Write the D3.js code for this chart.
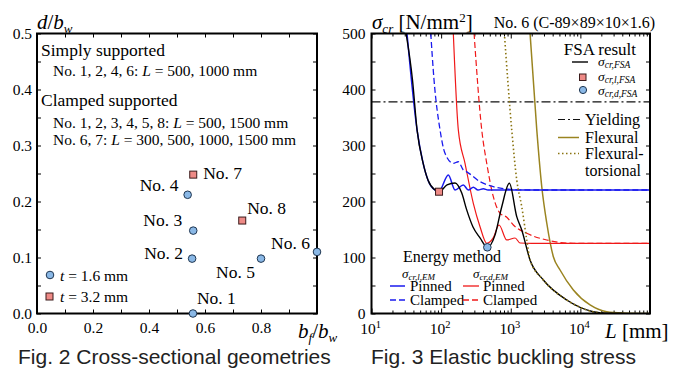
<!DOCTYPE html>
<html>
<head>
<meta charset="utf-8">
<script src="https://cdn.jsdelivr.net/npm/d3@7/dist/d3.min.js"></script>
<style>
body { margin: 0; background: #fff; }
</style>
</head>
<body>
<svg width="686" height="370"></svg>
<script>
// ---------- Fig. 2 data (b_f/b_w, d/b_w) ----------
var t16Names = ['No. 1', 'No. 2', 'No. 3', 'No. 4', 'No. 5', 'No. 6'];
var t16Bf = [0.557, 0.554, 0.558, 0.538, 0.80, 1.0];
var t16D = [0.0, 0.098, 0.148, 0.212, 0.098, 0.110];
var t32Names = ['No. 7', 'No. 8'];
var t32Bf = [0.558, 0.733];
var t32D = [0.248, 0.166];
var xTicksL = [0, 0.1, 0.2, 0.3, 0.4, 0.5, 0.6, 0.7, 0.8, 0.9, 1.0];
var xLabelsL = ['0.0', '', '0.2', '', '0.4', '', '0.6', '', '0.8', '', ''];
var yTicksL = [0, 0.05, 0.1, 0.15, 0.2, 0.25, 0.3, 0.35, 0.4, 0.45, 0.5];
var yLabelsL = ['0.0', '', '0.1', '', '0.2', '', '0.3', '', '0.4', '', '0.5'];

// ---------- Fig. 3 data (L [mm], sigma [N/mm2]) ----------
var fsa = [[31.3, 501], [38.8, 417], [45.1, 328], [55, 269], [64.9, 238], [81.7, 220.5], [93.3, 217.5],
  [121.6, 229.5], [158.5, 233], [197.8, 215], [233, 185], [287, 154.5], [362, 135], [461, 118.2],
  [594, 140], [743, 190.7], [955, 232.5], [1219, 173], [1439, 149], [1892, 95.5], [2939, 59.8],
  [6377, 24.1], [15200, 3.2], [23900, 0.4], [40000, 0]];
var pinnedLocal = [[32.3, 501], [45.1, 328], [55, 269], [64.9, 238], [81.7, 220.5], [93.3, 218.5],
  [126.8, 247.3], [158.5, 220.5], [208.5, 229.5], [246, 220.5], [290, 225.4], [339, 220.5],
  [404, 222.7], [472, 220.5], [1000, 220.5], [100000, 220.5]];
var clampedLocal = [[70.9, 501], [79.1, 417], [96.4, 328], [113.7, 286], [149.7, 268.2], [176.6, 271],
  [208.5, 256], [233.3, 253], [362, 235.4], [562, 226.4], [977, 221.8], [1892, 220.5], [100000, 220.5]];
var pinnedDist = [[149.6, 501], [176.6, 328], [220.4, 268.2], [290, 196.8], [362, 155], [452, 125.4],
  [560, 135], [679, 158], [877, 131.3], [1153, 134.8], [1361, 125.9], [2000, 125.4], [100000, 125.4]];
var clampedDist = [[297, 501], [383, 328], [452, 268.2], [562, 208.6], [702, 179], [877, 171.8],
  [1090, 158], [1698, 143.2], [3290, 131.3], [7929, 125.4], [100000, 125.4]];
var flexural = [[1892, 501], [2364, 328], [2789, 226.4], [3290, 161.6], [4092, 101.4], [5107, 77.7],
  [7929, 42], [13770, 15.2], [23900, 3.2], [41000, 0.9], [100000, 0]];
var flexTors = [[809, 501], [1033, 328], [1219, 238.4], [1439, 190.7], [1698, 131.3], [1892, 95.5],
  [2939, 59.8], [6377, 24.1], [15200, 3.2], [23900, 0.4], [40000, 0]];
var yieldStress = 378;
var squareFSA = [93.3, 217.5];
var circleFSA = [461, 118.2];
var yTicksR = [0, 50, 100, 150, 200, 250, 300, 350, 400, 450, 500];
var yLabelsR = ['0', '', '100', '', '200', '', '300', '', '400', '', '500'];
var xPowersR = [1, 2, 3, 4];

var SERIF = '"Liberation Serif", "Times New Roman", Times, "DejaVu Serif", serif';
var SANS = '"Liberation Sans", Arial, Helvetica, sans-serif';
var svg = d3.select('svg').attr('font-family', SERIF);
var blue = '#1a1aee', red = '#f01818', olive = '#9a8420', circFill = '#8ab8e6', sqFill = '#ee8a86';

function rich(g, x, y, parts, anchor) {
  var t = g.append('text').attr('x', x).attr('y', y).attr('text-anchor', anchor || 'start').attr('font-family', SERIF);
  parts.forEach(function (p) {
    var s = t.append('tspan').text(p[0]).attr('font-size', p[1]);
    if (p[2]) s.attr('dy', p[2]);
    if (p[3]) s.attr('font-style', 'italic');
  });
  return t;
}
function txt(g, x, y, size, s) {
  return g.append('text').attr('x', x).attr('y', y).attr('font-size', size).attr('font-family', SERIF).text(s);
}
function styleAxis(g) {
  g.select('.domain').remove();
  g.attr('font-family', SERIF).attr('font-size', 15.5);
  g.selectAll('.tick line').attr('stroke', '#000');
  g.selectAll('.tick text').attr('fill', '#000').attr('font-family', SERIF);
}

// ================= Fig. 2 =================
var xL = d3.scaleLinear().domain([0, 1]).range([37, 317]);
var yL = d3.scaleLinear().domain([0, 0.5]).range([313.5, 33.5]);
var gl = svg.append('g');

gl.append('g').attr('transform', 'translate(0,313.5)')
  .call(d3.axisBottom(xL).tickValues(xTicksL).tickSize(-4).tickPadding(8).tickFormat(function (d, i) { return xLabelsL[i]; }))
  .call(styleAxis);
gl.append('g').attr('transform', 'translate(0,33.5)')
  .call(d3.axisTop(xL).tickValues(xTicksL).tickSize(-4).tickFormat(''))
  .call(styleAxis);
gl.append('g').attr('transform', 'translate(37,0)')
  .call(d3.axisLeft(yL).tickValues(yTicksL).tickSize(-4).tickPadding(5).tickFormat(function (d, i) { return yLabelsL[i]; }))
  .call(styleAxis);
gl.append('g').attr('transform', 'translate(317,0)')
  .call(d3.axisRight(yL).tickValues(yTicksL).tickSize(-4).tickFormat(''))
  .call(styleAxis);
gl.append('rect').attr('x', 37).attr('y', 33.5).attr('width', 280).attr('height', 280)
  .attr('fill', 'none').attr('stroke', '#000').attr('stroke-width', 2);

// text block
txt(gl, 41, 56, 17.5, 'Simply supported');
rich(gl, 53, 76, [['No. 1, 2, 4, 6: ', 15.5], ['L', 15.5, 0, 1], [' = 500, 1000 mm', 15.5]]);
txt(gl, 41, 106, 17.5, 'Clamped supported');
rich(gl, 53, 128, [['No. 1, 2, 3, 4, 5, 8: ', 15.5], ['L', 15.5, 0, 1], [' = 500, 1500 mm', 15.5]]);
rich(gl, 53, 145, [['No. 6, 7: ', 15.5], ['L', 15.5, 0, 1], [' = 300, 500, 1000, 1500 mm', 15.5]]);

// points
var t16 = t16Names.map(function (n, i) { return { name: n, x: t16Bf[i], y: t16D[i] }; });
var t32 = t32Names.map(function (n, i) { return { name: n, x: t32Bf[i], y: t32D[i] }; });
var labOff = { 'No. 1': [4, -10, 'start'], 'No. 2': [-9, 0, 'end'], 'No. 3': [-11, -5, 'end'],
  'No. 4': [-9, -4, 'end'], 'No. 5': [-6, 19, 'end'], 'No. 6': [-7, -3, 'end'],
  'No. 7': [10, 4, 'start'], 'No. 8': [5, -7, 'start'] };
gl.selectAll('circle.p').data(t16).enter().append('circle').attr('class', 'p')
  .attr('cx', function (d) { return xL(d.x); }).attr('cy', function (d) { return yL(d.y); })
  .attr('r', 3.8).attr('fill', circFill).attr('stroke', '#1e3550').attr('stroke-width', 1);
gl.selectAll('rect.p').data(t32).enter().append('rect').attr('class', 'p')
  .attr('x', function (d) { return xL(d.x) - 3.5; }).attr('y', function (d) { return yL(d.y) - 3.5; })
  .attr('width', 7).attr('height', 7).attr('fill', sqFill).attr('stroke', '#3a1a1a').attr('stroke-width', 1);
gl.selectAll('text.lab').data(t16.concat(t32)).enter().append('text').attr('class', 'lab')
  .attr('font-size', 17.5).attr('font-family', SERIF)
  .attr('x', function (d) { return xL(d.x) + labOff[d.name][0]; })
  .attr('y', function (d) { return yL(d.y) + labOff[d.name][1]; })
  .attr('text-anchor', function (d) { return labOff[d.name][2]; })
  .text(function (d) { return d.name; });

// legend
gl.append('circle').attr('cx', 50).attr('cy', 275).attr('r', 3.8).attr('fill', circFill).attr('stroke', '#1e3550');
rich(gl, 60, 280.5, [['t', 15.5, 0, 1], [' = 1.6 mm', 15.5]]);
gl.append('rect').attr('x', 46).attr('y', 293).attr('width', 7).attr('height', 7).attr('fill', sqFill).attr('stroke', '#3a1a1a');
rich(gl, 60, 302, [['t', 15.5, 0, 1], [' = 3.2 mm', 15.5]]);

// axis titles
rich(gl, 37, 29, [['d', 21, 0, 1], ['/', 21], ['b', 21, 0, 1], ['w', 13, 4, 1]]);
rich(gl, 298, 338, [['b', 21, 0, 1], ['f', 13, 4, 1], ['/', 21, -4], ['b', 21, 0, 1], ['w', 13, 4, 1]]);
svg.append('text').attr('x', 18).attr('y', 364).attr('font-size', 21).attr('font-family', SANS).attr('fill', '#222')
  .text('Fig. 2 Cross-sectional geometries');

// ================= Fig. 3 =================
var xR = d3.scaleLog().domain([10, 100000]).range([371.5, 650]);
var yR = d3.scaleLinear().domain([0, 500]).range([313.5, 33.5]);
var gr = svg.append('g');
var logTicks = xR.ticks();
function isPow(d) { return Math.abs(Math.log10(d) - Math.round(Math.log10(d))) < 1e-6; }

var bx = gr.append('g').attr('transform', 'translate(0,313.5)')
  .call(d3.axisBottom(xR).tickValues(logTicks).tickSize(-3).tickPadding(7).tickFormat(''))
  .call(styleAxis);
bx.selectAll('.tick line').attr('y2', function (d) { return isPow(d) ? -5 : -3; });
var tx = gr.append('g').attr('transform', 'translate(0,33.5)')
  .call(d3.axisTop(xR).tickValues(logTicks).tickSize(-3).tickFormat(''))
  .call(styleAxis);
tx.selectAll('.tick line').attr('y2', function (d) { return isPow(d) ? 5 : 3; });
xPowersR.forEach(function (p) {
  rich(gr, xR(Math.pow(10, p)) - 1, 334, [['10', 15.5], [String(p), 10.5, -6]], 'middle');
});
gr.append('g').attr('transform', 'translate(371.5,0)')
  .call(d3.axisLeft(yR).tickValues(yTicksR).tickSize(-4).tickPadding(6).tickFormat(function (d, i) { return yLabelsR[i]; }))
  .call(styleAxis);
gr.append('g').attr('transform', 'translate(650,0)')
  .call(d3.axisRight(yR).tickValues(yTicksR).tickSize(-4).tickFormat(''))
  .call(styleAxis);

gr.append('clipPath').attr('id', 'clipR').append('rect')
  .attr('x', 371.5).attr('y', 33.5).attr('width', 278.5).attr('height', 280);
var plot = gr.append('g').attr('clip-path', 'url(#clipR)');
var line = d3.line().x(function (d) { return xR(d[0]); }).y(function (d) { return yR(d[1]); }).curve(d3.curveMonotoneX);

plot.append('line').attr('x1', 371.5).attr('x2', 650).attr('y1', yR(yieldStress)).attr('y2', yR(yieldStress))
  .attr('stroke', '#111').attr('stroke-width', 1.2).attr('stroke-dasharray', '9,3,2,3');
plot.append('path').datum(flexural).attr('d', line).attr('fill', 'none').attr('stroke', olive).attr('stroke-width', 1.5);
plot.append('path').datum(clampedDist).attr('d', line).attr('fill', 'none').attr('stroke', red).attr('stroke-width', 1.2).attr('stroke-dasharray', '6,3');
plot.append('path').datum(pinnedDist).attr('d', line).attr('fill', 'none').attr('stroke', red).attr('stroke-width', 1.2);
plot.append('path').datum(clampedLocal).attr('d', line).attr('fill', 'none').attr('stroke', blue).attr('stroke-width', 1.3).attr('stroke-dasharray', '6,3');
plot.append('path').datum(pinnedLocal).attr('d', line).attr('fill', 'none').attr('stroke', blue).attr('stroke-width', 1.5);
plot.append('path').datum(fsa).attr('d', line).attr('fill', 'none').attr('stroke', '#000').attr('stroke-width', 1.4);
plot.append('path').datum(flexTors).attr('d', line).attr('fill', 'none').attr('stroke', '#8a7410').attr('stroke-width', 1.6).attr('stroke-dasharray', '1.5,2.5');
plot.append('rect').attr('x', xR(squareFSA[0]) - 3.5).attr('y', yR(squareFSA[1]) - 3.5).attr('width', 7).attr('height', 7)
  .attr('fill', sqFill).attr('stroke', '#3a1a1a');
plot.append('circle').attr('cx', xR(circleFSA[0])).attr('cy', yR(circleFSA[1])).attr('r', 3.8)
  .attr('fill', circFill).attr('stroke', '#1e3550');

gr.append('rect').attr('x', 371.5).attr('y', 33.5).attr('width', 278.5).attr('height', 280)
  .attr('fill', 'none').attr('stroke', '#000').attr('stroke-width', 2);

// titles
rich(gr, 372, 29, [['σ', 21, 0, 1], ['cr', 13, 4, 1], [' [N/mm', 21, -4], ['2', 13, -7], [']', 21, 7]]);
gr.append('text').attr('x', 655).attr('y', 28).attr('text-anchor', 'end').attr('font-size', 16).attr('font-family', SERIF)
  .text('No. 6 (C-89×89×10×1.6)');
rich(gr, 605, 338, [['L', 21, 0, 1], [' [mm]', 21]]);

// FSA legend
gr.append('text').attr('x', 636).attr('y', 55).attr('text-anchor', 'end').attr('font-size', 17).attr('font-family', SERIF).text('FSA result');
gr.append('line').attr('x1', 572).attr('x2', 588).attr('y1', 62).attr('y2', 62).attr('stroke', '#000').attr('stroke-width', 1.4);
rich(gr, 598, 66, [['σ', 13.5, 0, 1], ['cr,FSA', 9.5, 2, 1]]);
gr.append('rect').attr('x', 579.5).attr('y', 74).attr('width', 6.5).attr('height', 6.5).attr('fill', sqFill).attr('stroke', '#3a1a1a');
rich(gr, 598, 81, [['σ', 13.5, 0, 1], ['cr,l,FSA', 9.5, 2, 1]]);
gr.append('circle').attr('cx', 583).attr('cy', 90).attr('r', 3.6).attr('fill', circFill).attr('stroke', '#1e3550');
rich(gr, 598, 94.5, [['σ', 13.5, 0, 1], ['cr,d,FSA', 9.5, 2, 1]]);

gr.append('line').attr('x1', 558).attr('x2', 580).attr('y1', 119.5).attr('y2', 119.5).attr('stroke', '#111').attr('stroke-width', 1.2).attr('stroke-dasharray', '7,3,2,3');
txt(gr, 585, 125, 16, 'Yielding');
gr.append('line').attr('x1', 558).attr('x2', 579).attr('y1', 137.5).attr('y2', 137.5).attr('stroke', olive).attr('stroke-width', 1.5);
txt(gr, 585, 143, 16, 'Flexural');
gr.append('line').attr('x1', 558).attr('x2', 579).attr('y1', 153.5).attr('y2', 153.5).attr('stroke', '#8a7410').attr('stroke-width', 1.6).attr('stroke-dasharray', '1.5,2.5');
txt(gr, 585, 159, 16, 'Flexural-');
txt(gr, 585, 176, 16, 'torsional');

// Energy method legend
txt(gr, 403, 262, 16, 'Energy method');
rich(gr, 402, 278, [['σ', 13, 0, 1], ['cr,l,EM', 9, 2, 1]]);
rich(gr, 473, 278, [['σ', 13, 0, 1], ['cr,d,EM', 9, 2, 1]]);
gr.append('line').attr('x1', 390).attr('x2', 405).attr('y1', 286).attr('y2', 286).attr('stroke', blue).attr('stroke-width', 1.5);
txt(gr, 410, 291, 15, 'Pinned');
gr.append('line').attr('x1', 390).attr('x2', 406).attr('y1', 300).attr('y2', 300).attr('stroke', blue).attr('stroke-width', 1.3).attr('stroke-dasharray', '6,3');
txt(gr, 410, 305, 15, 'Clamped');
gr.append('line').attr('x1', 463).attr('x2', 479).attr('y1', 286).attr('y2', 286).attr('stroke', red).attr('stroke-width', 1.3);
txt(gr, 483, 291, 15, 'Pinned');
gr.append('line').attr('x1', 463).attr('x2', 480).attr('y1', 300).attr('y2', 300).attr('stroke', red).attr('stroke-width', 1.3).attr('stroke-dasharray', '6,3');
txt(gr, 483, 305, 15, 'Clamped');

svg.append('text').attr('x', 371).attr('y', 364).attr('font-size', 21).attr('font-family', SANS).attr('fill', '#222')
  .text('Fig. 3 Elastic buckling stress');
</script>
</body>
</html>
